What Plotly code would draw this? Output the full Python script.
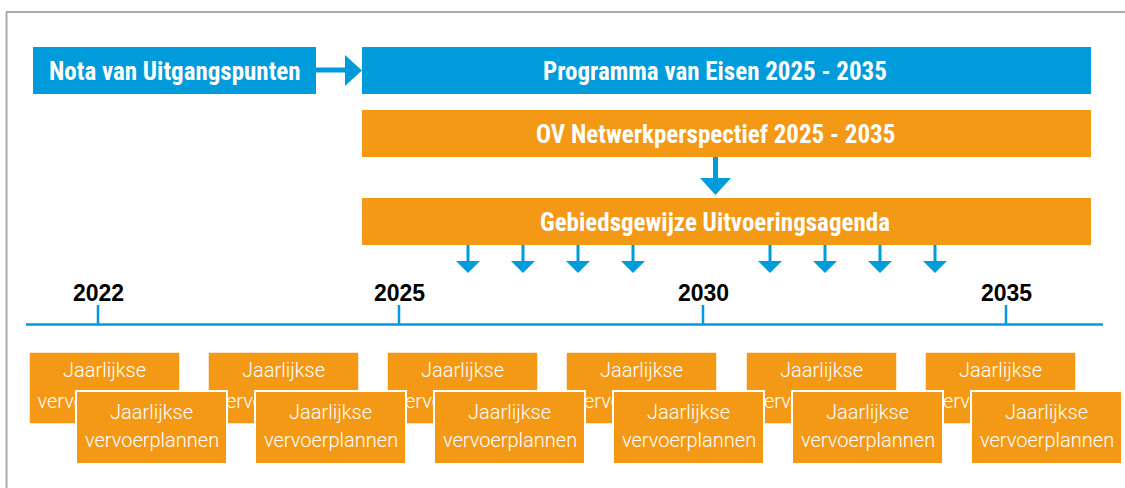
import plotly.graph_objects as go

# ---- data (texts) ----
top_boxes = ["Nota van Uitgangspunten", "Programma van Eisen 2025 - 2035",
             "OV Netwerkperspectief 2025 - 2035", "Gebiedsgewijze Uitvoeringsagenda"]
years = ["2022", "2025", "2030", "2035"]
plan_line1 = "Jaarlijkse"
plan_line2 = "vervoerplannen"
n_plans = 6

# ---- layout geometry (pixel space) ----
BLUE = "#009BDA"
ORANGE = "#F39915"
GRAY = "#ABABAB"
W, H = 1125, 488

# boxes: x0, x1, y0, y1, colour, text centre x
box_geom = [(33, 316, 47, 94, BLUE, 174.5), (362, 1091, 47, 94, BLUE, 715),
            (362, 1091, 110, 157, ORANGE, 715), (362, 1091, 198, 245, ORANGE, 715)]
year_x = [98, 399, 703, 1006]
small_arrow_x = [468, 523, 578, 633, 770, 825, 880, 935]
back_x0 = [29, 208, 387, 566, 746, 925]
front_x0 = [76, 255, 434, 613, 792, 971]
plan_w = 151

HEAD_FONT = dict(family="Liberation Sans Narrow, Roboto Condensed, DejaVu Sans Condensed, Arial Narrow, sans-serif",
                 size=25, color="white", weight="bold")
PLAN_FONT = dict(family="Roboto, Liberation Sans, sans-serif", size=20, color="white", weight=300)

shapes = []
annotations = []

# frame
shapes.append(dict(type="line", x0=6, x1=W, y0=12, y1=12, line=dict(color=GRAY, width=2), layer="below"))
shapes.append(dict(type="line", x0=6.5, x1=6.5, y0=12, y1=H, line=dict(color=GRAY, width=2), layer="below"))

for (x0, x1, y0, y1, c, tx), t in zip(box_geom, top_boxes):
    shapes.append(dict(type="rect", x0=x0, x1=x1, y0=y0, y1=y1, fillcolor=c, line=dict(width=0), layer="below"))
    annotations.append(dict(x=tx, y=(y0 + y1) / 2 + 1, text=t, showarrow=False,
                            font=HEAD_FONT, xanchor="center", yanchor="middle"))

# arrow right Nota -> Programma
shapes.append(dict(type="line", x0=316, x1=346, y0=70, y1=70, line=dict(color=BLUE, width=5), layer="below"))
shapes.append(dict(type="path", path="M 345 55 L 362 70.5 L 345 86 Z", fillcolor=BLUE, line=dict(width=0), layer="below"))

# arrow down OV -> Gebieds
shapes.append(dict(type="line", x0=715.5, x1=715.5, y0=157, y1=180, line=dict(color=BLUE, width=5), layer="below"))
shapes.append(dict(type="path", path="M 700 178 L 731 178 L 715.5 195 Z", fillcolor=BLUE, line=dict(width=0), layer="below"))

# small arrows
for ax in small_arrow_x:
    shapes.append(dict(type="line", x0=ax, x1=ax, y0=245, y1=263, line=dict(color=BLUE, width=3), layer="below"))
    shapes.append(dict(type="path", path=f"M {ax-12} 261 L {ax+12} 261 L {ax} 273 Z",
                       fillcolor=BLUE, line=dict(width=0), layer="below"))

# timeline
shapes.append(dict(type="line", x0=26, x1=1103, y0=324.5, y1=324.5, line=dict(color=BLUE, width=2.5), layer="below"))
for yx, yl in zip(year_x, years):
    shapes.append(dict(type="line", x0=yx, x1=yx, y0=305, y1=325, line=dict(color=BLUE, width=2.5), layer="below"))
    annotations.append(dict(x=yx, y=293, text=yl, showarrow=False, xanchor="center", yanchor="middle",
                            font=dict(family="Liberation Sans, Arial, sans-serif", size=23, color="black", weight="bold")))

# back row plans
for x0 in back_x0:
    shapes.append(dict(type="rect", x0=x0, x1=x0 + plan_w, y0=352, y1=424, fillcolor=ORANGE,
                       line=dict(color="white", width=1.5), layer="below"))
back_tx = [x0 + plan_w / 2 for x0 in back_x0]
# front row plans
for x0 in front_x0:
    shapes.append(dict(type="rect", x0=x0, x1=x0 + plan_w, y0=391, y1=464, fillcolor=ORANGE,
                       line=dict(color="white", width=2), layer="above"))
    annotations.append(dict(x=x0 + plan_w / 2, y=412, text=plan_line1, showarrow=False,
                            xanchor="center", yanchor="middle", font=PLAN_FONT))
    annotations.append(dict(x=x0 + plan_w / 2, y=440, text=plan_line2, showarrow=False,
                            xanchor="center", yanchor="middle", font=PLAN_FONT))

fig = go.Figure()
fig.add_trace(go.Scatter(x=back_tx, y=[372] * n_plans, mode="text", text=[plan_line1] * n_plans,
                         textfont=PLAN_FONT, hoverinfo="skip", showlegend=False))
fig.add_trace(go.Scatter(x=back_tx, y=[403] * n_plans, mode="text", text=[plan_line2] * n_plans,
                         textfont=PLAN_FONT, hoverinfo="skip", showlegend=False))

fig.update_layout(width=W, height=H, margin=dict(l=0, r=0, t=0, b=0),
                  paper_bgcolor="white", plot_bgcolor="white",
                  xaxis=dict(range=[0, W], visible=False, fixedrange=True),
                  yaxis=dict(range=[H, 0], visible=False, fixedrange=True),
                  shapes=shapes, annotations=annotations, showlegend=False)
fig.write_html("out.html", config={"displayModeBar": False},
               post_script="document.body.style.margin='0';document.body.style.overflow='hidden';")
